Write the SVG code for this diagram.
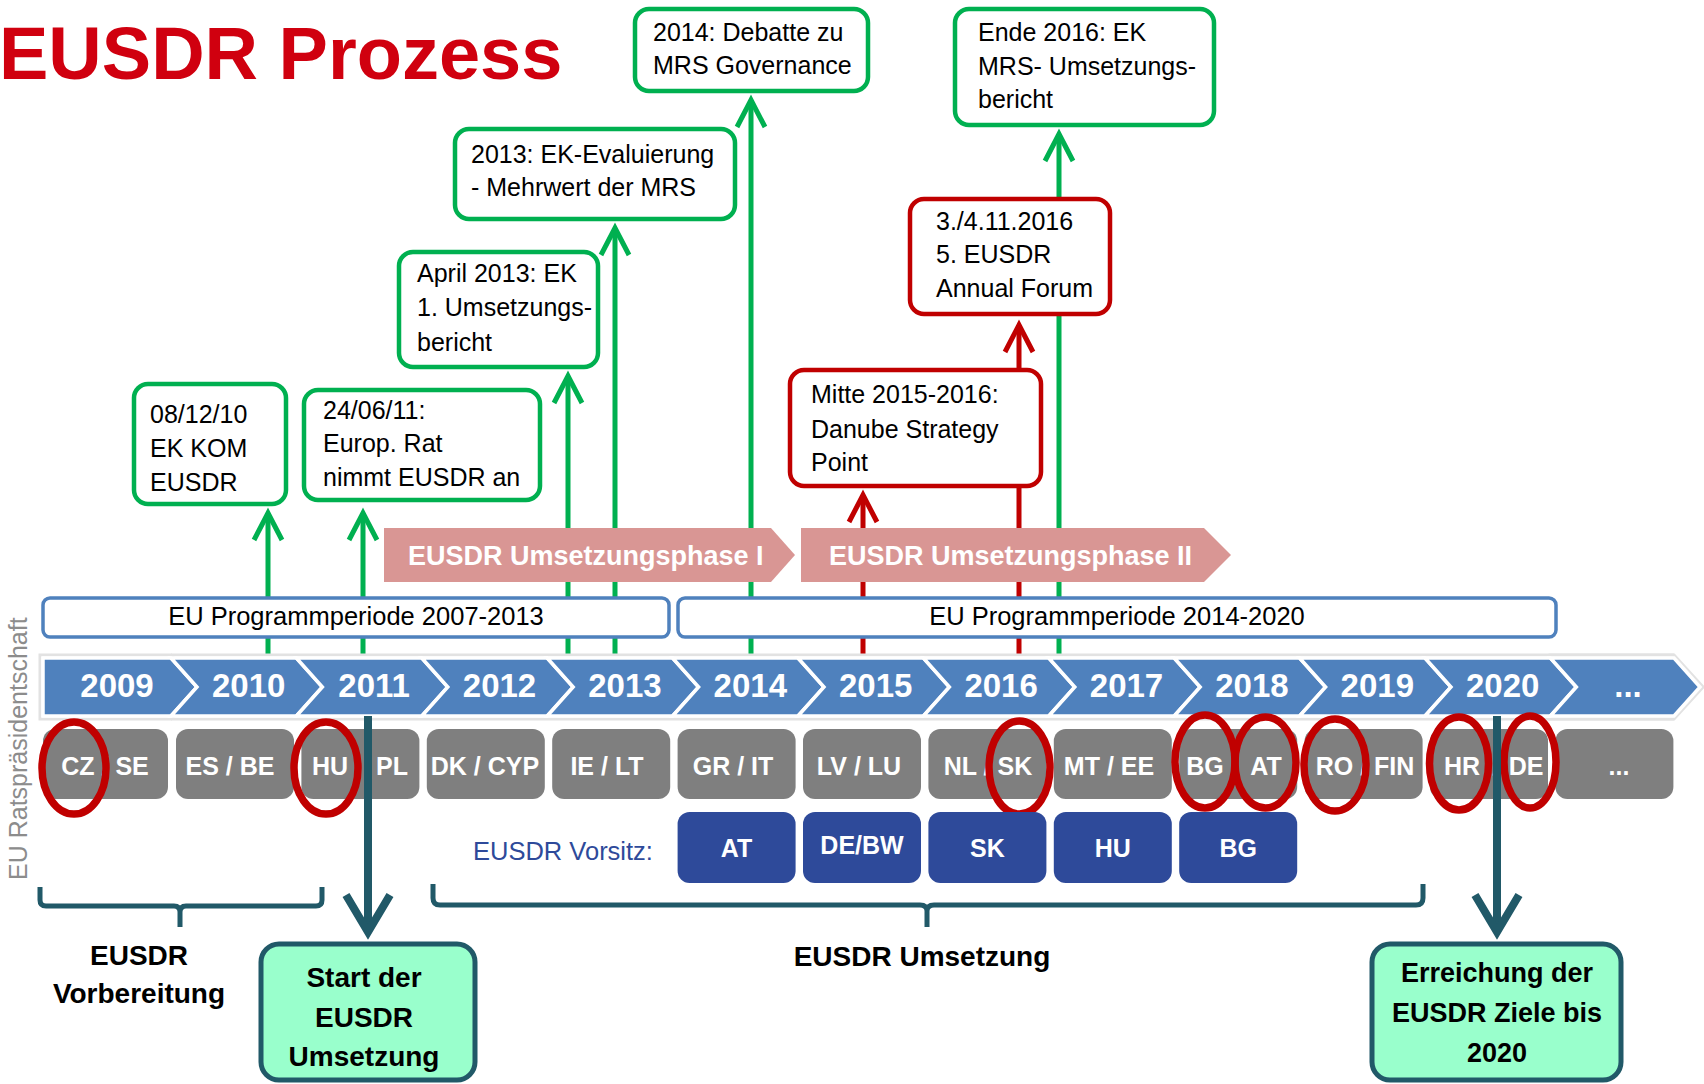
<svg xmlns="http://www.w3.org/2000/svg" width="1704" height="1084" viewBox="0 0 1704 1084">
<defs>
<style>
text{font-family:"Liberation Sans",Arial,sans-serif}
.title{font-size:74px;font-weight:bold;fill:#d0000f}
.vt{font-size:25px;fill:#8c8c8c}
.box{fill:#fff;stroke-width:4.5}
.g{stroke:#00b050}
.r{stroke:#c00000}
.bt{font-size:25px;fill:#000}
.ln{fill:none;stroke-width:5}
.lg{stroke:#00b050;marker-end:url(#ag)}
.lr{stroke:#c00000;marker-end:url(#ar)}
.banner{fill:#d99694}
.bnt{font-size:27px;font-weight:bold;fill:#fff}
.per{fill:#fff;stroke:#4f81bd;stroke-width:3.5}
.pert{font-size:25.5px;fill:#000;text-anchor:middle}
.chev{fill:#4f81bd;stroke:#fff;stroke-width:3.5;stroke-linejoin:miter}
.yr{font-size:33px;font-weight:bold;fill:#fff;text-anchor:middle}
.pres{fill:#7f7f7f}
.prt{font-size:25px;font-weight:bold;fill:#fff;text-anchor:middle}
.circ{fill:none;stroke:#c00000;stroke-width:7.5}
.vor{fill:#2e4a9a}
.vort{font-size:25.5px;fill:#2e4a9a}
.teal{fill:none;stroke:#215968;stroke-width:8;marker-end:url(#at)}
.brk{fill:none;stroke:#215968;stroke-width:5;stroke-linejoin:round}
.lbl{font-size:28px;font-weight:bold;fill:#000;text-anchor:middle}
.mint{fill:#99ffcc;stroke:#215968;stroke-width:5}
</style>
<marker id="ag" markerUnits="userSpaceOnUse" markerWidth="40" markerHeight="40" refX="0" refY="0" orient="auto" overflow="visible"><path d="M-27,-14 L0,0 L-27,14" fill="none" stroke="#00b050" stroke-width="5"/></marker>
<marker id="ar" markerUnits="userSpaceOnUse" markerWidth="40" markerHeight="40" refX="0" refY="0" orient="auto" overflow="visible"><path d="M-27,-14 L0,0 L-27,14" fill="none" stroke="#c00000" stroke-width="5"/></marker>
<marker id="at" markerUnits="userSpaceOnUse" markerWidth="50" markerHeight="50" refX="0" refY="0" orient="auto" overflow="visible"><path d="M-37,-22 L0,0 L-37,22" fill="none" stroke="#215968" stroke-width="8"/></marker>
</defs>
<rect width="1704" height="1084" fill="#fff"/>

<g id="title"><text class="title" x="-1" y="79">EUSDR Prozess</text></g>
<g id="side-label"><text class="vt" transform="translate(27,880) rotate(-90)">EU Ratspräsidentschaft</text></g>

<g id="connectors-events">
<path class="ln lg" d="M268,656 L268,513"/>
<path class="ln lg" d="M363,656 L363,513"/>
<path class="ln lg" d="M568,656 L568,376"/>
<path class="ln lg" d="M615,656 L615,228"/>
<path class="ln lg" d="M751,656 L751,100"/>
<path class="ln lg" d="M1059,656 L1059,134"/>
<path class="ln lr" d="M863,656 L863,495"/>
<path class="ln lr" d="M1019,656 L1019,325"/>
</g>

<g id="phase1"><polygon class="banner" points="384,528 771,528 795,555 771,582 384,582"/><text class="bnt" x="408" y="565">EUSDR Umsetzungsphase I</text></g>
<g id="phase2"><polygon class="banner" points="801,528 1204,528 1231,555 1204,582 801,582"/><text class="bnt" x="829" y="565">EUSDR Umsetzungsphase II</text></g>

<g id="period1"><rect class="per" x="43" y="598" width="626" height="39" rx="7"/><text class="pert" x="356" y="625">EU Programmperiode 2007-2013</text></g>
<g id="period2"><rect class="per" x="678" y="598" width="878" height="39" rx="7"/><text class="pert" x="1117" y="625">EU Programmperiode 2014-2020</text></g>

<g id="years">
<polygon points="40,655 171,655 200,687 171,719 40,719" fill="none" stroke="#e2e2e2" stroke-width="3"/>
<polygon points="1550,655 1674,655 1703,687 1674,719 1550,719" fill="none" stroke="#e2e2e2" stroke-width="3"/>
<line x1="171" y1="655" x2="1674" y2="655" stroke="#e2e2e2" stroke-width="3"/>
<line x1="171" y1="719" x2="1674" y2="719" stroke="#e2e2e2" stroke-width="3"/>
<polygon class="chev" points="43,658 171,658 197,687 171,716 43,716"/>
<polygon class="chev" points="171,658 296.4,658 322.4,687 296.4,716 171,716 197,687"/>
<polygon class="chev" points="296.4,658 421.8,658 447.8,687 421.8,716 296.4,716 322.4,687"/>
<polygon class="chev" points="421.8,658 547.2,658 573.2,687 547.2,716 421.8,716 447.8,687"/>
<polygon class="chev" points="547.2,658 672.6,658 698.6,687 672.6,716 547.2,716 573.2,687"/>
<polygon class="chev" points="672.6,658 798,658 824,687 798,716 672.6,716 698.6,687"/>
<polygon class="chev" points="798,658 923.4,658 949.4,687 923.4,716 798,716 824,687"/>
<polygon class="chev" points="923.4,658 1048.8,658 1074.8,687 1048.8,716 923.4,716 949.4,687"/>
<polygon class="chev" points="1048.8,658 1174.2,658 1200.2,687 1174.2,716 1048.8,716 1074.8,687"/>
<polygon class="chev" points="1174.2,658 1299.6,658 1325.6,687 1299.6,716 1174.2,716 1200.2,687"/>
<polygon class="chev" points="1299.6,658 1425,658 1451,687 1425,716 1299.6,716 1325.6,687"/>
<polygon class="chev" points="1425,658 1550.4,658 1576.4,687 1550.4,716 1425,716 1451,687"/>
<polygon class="chev" points="1550.4,658 1674,658 1700,687 1674,716 1550.4,716 1576.4,687"/>
<text class="yr" x="117" y="697">2009</text>
<text class="yr" x="248.7" y="697">2010</text>
<text class="yr" x="374.1" y="697">2011</text>
<text class="yr" x="499.5" y="697">2012</text>
<text class="yr" x="624.9" y="697">2013</text>
<text class="yr" x="750.3" y="697">2014</text>
<text class="yr" x="875.7" y="697">2015</text>
<text class="yr" x="1001.1" y="697">2016</text>
<text class="yr" x="1126.5" y="697">2017</text>
<text class="yr" x="1251.9" y="697">2018</text>
<text class="yr" x="1377.3" y="697">2019</text>
<text class="yr" x="1502.7" y="697">2020</text>
<text class="yr" x="1628" y="697">...</text>
</g>

<g id="presidencies">
<rect class="pres" x="43" y="729" width="125" height="70" rx="12"/>
<rect class="pres" x="176" y="729" width="118" height="70" rx="12"/>
<rect class="pres" x="301.4" y="729" width="118" height="70" rx="12"/>
<rect class="pres" x="426.8" y="729" width="118" height="70" rx="12"/>
<rect class="pres" x="552.2" y="729" width="118" height="70" rx="12"/>
<rect class="pres" x="677.6" y="729" width="118" height="70" rx="12"/>
<rect class="pres" x="803" y="729" width="118" height="70" rx="12"/>
<rect class="pres" x="928.4" y="729" width="118" height="70" rx="12"/>
<rect class="pres" x="1053.8" y="729" width="118" height="70" rx="12"/>
<rect class="pres" x="1179.2" y="729" width="118" height="70" rx="12"/>
<rect class="pres" x="1304.6" y="729" width="118" height="70" rx="12"/>
<rect class="pres" x="1430" y="729" width="118" height="70" rx="12"/>
<rect class="pres" x="1555.4" y="729" width="118" height="70" rx="12"/>
<text class="prt" x="105" y="775">CZ / SE</text>
<text class="prt" x="230" y="775">ES / BE</text>
<text class="prt" y="775"><tspan x="330">HU</tspan><tspan x="368">/</tspan><tspan x="392">PL</tspan></text>
<text class="prt" x="485" y="775">DK / CYP</text>
<text class="prt" x="607" y="775">IE / LT</text>
<text class="prt" x="733" y="775">GR / IT</text>
<text class="prt" x="859" y="775">LV / LU</text>
<text class="prt" x="988" y="775">NL / SK</text>
<text class="prt" x="1109" y="775">MT / EE</text>
<text class="prt" y="775"><tspan x="1205">BG</tspan><tspan x="1235">/</tspan><tspan x="1266">AT</tspan></text>
<text class="prt" x="1365" y="775">RO / FIN</text>
<text class="prt" y="775"><tspan x="1462">HR</tspan><tspan x="1496">/</tspan><tspan x="1526">DE</tspan></text>
<text class="prt" x="1619" y="775">...</text>
</g>

<g id="highlights">
<ellipse class="circ" cx="74" cy="768" rx="32" ry="46"/>
<ellipse class="circ" cx="326" cy="768" rx="32" ry="46"/>
<ellipse class="circ" cx="1019.5" cy="767.5" rx="30.5" ry="46.5"/>
<ellipse class="circ" cx="1205" cy="761.5" rx="30" ry="46.5"/>
<ellipse class="circ" cx="1265.5" cy="762.5" rx="30.5" ry="45.5"/>
<ellipse class="circ" cx="1335" cy="765" rx="31" ry="46"/>
<ellipse class="circ" cx="1459" cy="763.5" rx="29.5" ry="46.5"/>
<ellipse class="circ" cx="1530" cy="762" rx="26" ry="46"/>
</g>

<g id="vorsitz">
<text class="vort" x="473" y="860">EUSDR Vorsitz:</text>
<rect class="vor" x="677.6" y="812" width="118" height="71" rx="12"/>
<rect class="vor" x="803" y="812" width="118" height="71" rx="12"/>
<rect class="vor" x="928.4" y="812" width="118" height="71" rx="12"/>
<rect class="vor" x="1053.8" y="812" width="118" height="71" rx="12"/>
<rect class="vor" x="1179.2" y="812" width="118" height="71" rx="12"/>
<text class="prt" x="736.6" y="857">AT</text>
<text class="prt" x="862" y="854">DE/BW</text>
<text class="prt" x="987.4" y="857">SK</text>
<text class="prt" x="1112.8" y="857">HU</text>
<text class="prt" x="1238.2" y="857">BG</text>
</g>

<g id="connectors-milestones">
<path class="teal" d="M368,716 L368,932"/>
<path class="teal" d="M1497,716 L1497,932"/>
</g>

<g id="brackets">
<path class="brk" d="M40,887 L40,900 Q40,906 46,906 L174,906 Q180,906 180,912 L180,927 M180,912 Q180,906 186,906 L316,906 Q322,906 322,900 L322,887"/>
<path class="brk" d="M433,884 L433,898 Q433,905 440,905 L920,905 Q927,905 927,911 L927,927 M927,911 Q927,905 934,905 L1416,905 Q1423,905 1423,898 L1423,884"/>
</g>

<g id="label-vorbereitung"><text class="lbl" y="965"><tspan x="139">EUSDR</tspan><tspan x="139" y="1003">Vorbereitung</tspan></text></g>
<g id="label-umsetzung"><text class="lbl" x="922" y="966">EUSDR Umsetzung</text></g>

<g id="box-2010">
<rect class="box g" x="134" y="384" width="152" height="120" rx="14"/>
<text class="bt"><tspan x="150" y="423">08/12/10</tspan><tspan x="150" y="457">EK KOM</tspan><tspan x="150" y="491">EUSDR</tspan></text>
</g>
<g id="box-2011">
<rect class="box g" x="304" y="390" width="236" height="110" rx="14"/>
<text class="bt"><tspan x="323" y="419">24/06/11:</tspan><tspan x="323" y="452">Europ. Rat</tspan><tspan x="323" y="486">nimmt EUSDR an</tspan></text>
</g>
<g id="box-2013a">
<rect class="box g" x="399" y="252" width="199" height="115" rx="14"/>
<text class="bt"><tspan x="417" y="282">April 2013: EK</tspan><tspan x="417" y="316">1. Umsetzungs-</tspan><tspan x="417" y="351">bericht</tspan></text>
</g>
<g id="box-2013b">
<rect class="box g" x="455" y="129" width="280" height="90" rx="14"/>
<text class="bt"><tspan x="471" y="163">2013: EK-Evaluierung</tspan><tspan x="471" y="196">- Mehrwert der MRS</tspan></text>
</g>
<g id="box-2014">
<rect class="box g" x="635" y="9" width="233" height="82" rx="14"/>
<text class="bt"><tspan x="653" y="41">2014: Debatte zu</tspan><tspan x="653" y="74">MRS Governance</tspan></text>
</g>
<g id="box-2016-ek">
<rect class="box g" x="955" y="9" width="259" height="116" rx="14"/>
<text class="bt"><tspan x="978" y="41">Ende 2016: EK</tspan><tspan x="978" y="75">MRS- Umsetzungs-</tspan><tspan x="978" y="108">bericht</tspan></text>
</g>
<g id="box-forum">
<rect class="box r" x="910" y="199" width="200" height="115" rx="14"/>
<text class="bt"><tspan x="936" y="230">3./4.11.2016</tspan><tspan x="936" y="263">5. EUSDR</tspan><tspan x="936" y="297">Annual Forum</tspan></text>
</g>
<g id="box-dsp">
<rect class="box r" x="790" y="370" width="251" height="116" rx="14"/>
<text class="bt"><tspan x="811" y="403">Mitte 2015-2016:</tspan><tspan x="811" y="438">Danube Strategy</tspan><tspan x="811" y="471">Point</tspan></text>
</g>

<g id="box-start">
<rect class="mint" x="261" y="944" width="214" height="136" rx="18"/>
<text class="lbl"><tspan x="364" y="987">Start der</tspan><tspan x="364" y="1027">EUSDR</tspan><tspan x="364" y="1066">Umsetzung</tspan></text>
</g>
<g id="box-ziele">
<rect class="mint" x="1372" y="944" width="249" height="136" rx="18"/>
<text class="lbl" style="font-size:27px"><tspan x="1497" y="982">Erreichung der</tspan><tspan x="1497" y="1022">EUSDR Ziele bis</tspan><tspan x="1497" y="1062">2020</tspan></text>
</g>
</svg>
